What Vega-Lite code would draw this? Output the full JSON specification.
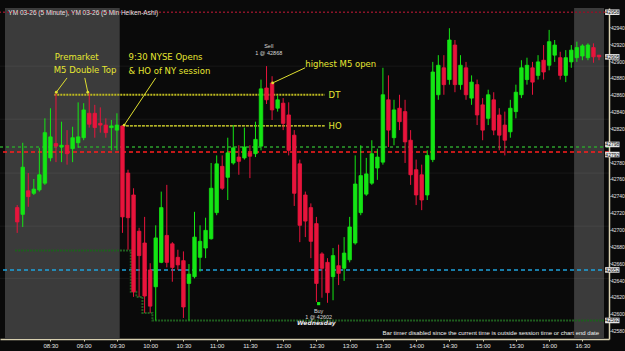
{
  "$schema": "https://vega.github.io/schema/vega-lite/v6.json",
  "width": 609,
  "height": 331,
  "autosize": {"type": "none"},
  "padding": {"top": 8, "left": 0, "right": 16, "bottom": 12},
  "background": "#0a0a0a",
  "config": {
    "view": {"stroke": null},
    "axisX": {"title": null, "grid": false, "labelColor": "#e6e6e6", "labelFont": "Liberation Sans", "labelFontSize": 6,
      "domainColor": "#d8d0b0", "domainWidth": 1.5, "tickColor": "#d8d0b0", "tickSize": 2, "labelPadding": 1},
    "axisY": {"title": null, "grid": false, "labelColor": "#e6e6e6", "labelFont": "Liberation Sans", "labelFontSize": 5,
      "domainColor": "#d8d0b0", "domainWidth": 1.5, "tickColor": "#d8d0b0", "tickSize": 1, "labelPadding": 0.5}
  },
  "datasets": {
    "candles": [
      {"t":480,"o":42726,"h":42729,"l":42696,"c":42709},
      {"t":485,"o":42718,"h":42803,"l":42703,"c":42774},
      {"t":490,"o":42746,"h":42767,"l":42727,"c":42739},
      {"t":495,"o":42743,"h":42760,"l":42741,"c":42748},
      {"t":500,"o":42747,"h":42797,"l":42745,"c":42765},
      {"t":505,"o":42755,"h":42832,"l":42753,"c":42815},
      {"t":510,"o":42785,"h":42844,"l":42781,"c":42810},
      {"t":515,"o":42802,"h":42862,"l":42780,"c":42799},
      {"t":520,"o":42798,"h":42828,"l":42780,"c":42800},
      {"t":525,"o":42800,"h":42818,"l":42777,"c":42790},
      {"t":530,"o":42796,"h":42822,"l":42780,"c":42809},
      {"t":535,"o":42803,"h":42851,"l":42797,"c":42810},
      {"t":540,"o":42809,"h":42850,"l":42806,"c":42842},
      {"t":545,"o":42838,"h":42862,"l":42821,"c":42825},
      {"t":550,"o":42838,"h":42848,"l":42809,"c":42821},
      {"t":555,"o":42826,"h":42845,"l":42815,"c":42824},
      {"t":560,"o":42824,"h":42832,"l":42809,"c":42815},
      {"t":565,"o":42821,"h":42830,"l":42794,"c":42823},
      {"t":570,"o":42818,"h":42838,"l":42794,"c":42824},
      {"t":575,"o":42823,"h":42823,"l":42696,"c":42715},
      {"t":580,"o":42767,"h":42771,"l":42676,"c":42714},
      {"t":585,"o":42741,"h":42749,"l":42620,"c":42626},
      {"t":590,"o":42698,"h":42702,"l":42620,"c":42669},
      {"t":595,"o":42684,"h":42715,"l":42601,"c":42621},
      {"t":600,"o":42652,"h":42660,"l":42601,"c":42609},
      {"t":605,"o":42632,"h":42705,"l":42592,"c":42690},
      {"t":610,"o":42661,"h":42745,"l":42660,"c":42726},
      {"t":615,"o":42693,"h":42753,"l":42655,"c":42661},
      {"t":620,"o":42683,"h":42685,"l":42638,"c":42655},
      {"t":625,"o":42667,"h":42676,"l":42652,"c":42658},
      {"t":630,"o":42663,"h":42674,"l":42595,"c":42608},
      {"t":635,"o":42636,"h":42659,"l":42592,"c":42647},
      {"t":640,"o":42644,"h":42721,"l":42642,"c":42691},
      {"t":645,"o":42667,"h":42705,"l":42650,"c":42686},
      {"t":650,"o":42678,"h":42714,"l":42666,"c":42699},
      {"t":655,"o":42689,"h":42779,"l":42688,"c":42749},
      {"t":660,"o":42720,"h":42788,"l":42717,"c":42778},
      {"t":665,"o":42775,"h":42788,"l":42747,"c":42749},
      {"t":670,"o":42762,"h":42809,"l":42735,"c":42791},
      {"t":675,"o":42779,"h":42824,"l":42777,"c":42797},
      {"t":680,"o":42786,"h":42800,"l":42765,"c":42781},
      {"t":685,"o":42785,"h":42821,"l":42783,"c":42798},
      {"t":690,"o":42791,"h":42800,"l":42761,"c":42787},
      {"t":695,"o":42790,"h":42828,"l":42786,"c":42807},
      {"t":700,"o":42799,"h":42878,"l":42794,"c":42867},
      {"t":705,"o":42868,"h":42894,"l":42849,"c":42854},
      {"t":710,"o":42874,"h":42882,"l":42830,"c":42842},
      {"t":715,"o":42844,"h":42859,"l":42840,"c":42854},
      {"t":720,"o":42850,"h":42856,"l":42818,"c":42826},
      {"t":725,"o":42836,"h":42851,"l":42788,"c":42794},
      {"t":730,"o":42812,"h":42818,"l":42728,"c":42743},
      {"t":735,"o":42778,"h":42783,"l":42685,"c":42705},
      {"t":740,"o":42741,"h":42745,"l":42691,"c":42710},
      {"t":745,"o":42726,"h":42731,"l":42666,"c":42686},
      {"t":750,"o":42707,"h":42715,"l":42614,"c":42636},
      {"t":755,"o":42671,"h":42673,"l":42619,"c":42654},
      {"t":760,"o":42661,"h":42666,"l":42613,"c":42625},
      {"t":765,"o":42644,"h":42678,"l":42616,"c":42669},
      {"t":770,"o":42657,"h":42682,"l":42634,"c":42648},
      {"t":775,"o":42654,"h":42691,"l":42639,"c":42672},
      {"t":780,"o":42664,"h":42715,"l":42661,"c":42703},
      {"t":785,"o":42684,"h":42788,"l":42682,"c":42754},
      {"t":790,"o":42720,"h":42800,"l":42717,"c":42764},
      {"t":795,"o":42742,"h":42785,"l":42740,"c":42766},
      {"t":800,"o":42755,"h":42806,"l":42753,"c":42790},
      {"t":805,"o":42773,"h":42796,"l":42759,"c":42786},
      {"t":810,"o":42780,"h":42892,"l":42777,"c":42860},
      {"t":815,"o":42854,"h":42883,"l":42798,"c":42818},
      {"t":820,"o":42809,"h":42854,"l":42800,"c":42842},
      {"t":825,"o":42844,"h":42860,"l":42818,"c":42828},
      {"t":830,"o":42840,"h":42854,"l":42779,"c":42804},
      {"t":835,"o":42806,"h":42818,"l":42753,"c":42765},
      {"t":840,"o":42771,"h":42783,"l":42729,"c":42741},
      {"t":845,"o":42765,"h":42777,"l":42723,"c":42735},
      {"t":850,"o":42741,"h":42794,"l":42735,"c":42788},
      {"t":855,"o":42783,"h":42899,"l":42780,"c":42887},
      {"t":860,"o":42860,"h":42907,"l":42854,"c":42895},
      {"t":865,"o":42892,"h":42907,"l":42860,"c":42872},
      {"t":870,"o":42878,"h":42939,"l":42872,"c":42925},
      {"t":875,"o":42919,"h":42925,"l":42863,"c":42872},
      {"t":880,"o":42872,"h":42907,"l":42866,"c":42895},
      {"t":885,"o":42892,"h":42899,"l":42854,"c":42860},
      {"t":890,"o":42856,"h":42883,"l":42848,"c":42875},
      {"t":895,"o":42872,"h":42878,"l":42824,"c":42836},
      {"t":900,"o":42848,"h":42856,"l":42806,"c":42818},
      {"t":905,"o":42832,"h":42866,"l":42824,"c":42860},
      {"t":910,"o":42854,"h":42863,"l":42812,"c":42818},
      {"t":915,"o":42836,"h":42844,"l":42794,"c":42812},
      {"t":920,"o":42824,"h":42840,"l":42788,"c":42806},
      {"t":925,"o":42816,"h":42854,"l":42809,"c":42844},
      {"t":930,"o":42840,"h":42872,"l":42832,"c":42863},
      {"t":935,"o":42860,"h":42901,"l":42856,"c":42892},
      {"t":940,"o":42878,"h":42904,"l":42872,"c":42895},
      {"t":945,"o":42892,"h":42899,"l":42860,"c":42875},
      {"t":950,"o":42883,"h":42907,"l":42878,"c":42899},
      {"t":955,"o":42901,"h":42919,"l":42878,"c":42887},
      {"t":960,"o":42895,"h":42937,"l":42889,"c":42923},
      {"t":965,"o":42907,"h":42925,"l":42899,"c":42919},
      {"t":970,"o":42904,"h":42911,"l":42878,"c":42883},
      {"t":975,"o":42883,"h":42913,"l":42875,"c":42904},
      {"t":980,"o":42899,"h":42919,"l":42892,"c":42913},
      {"t":985,"o":42904,"h":42923,"l":42899,"c":42916},
      {"t":990,"o":42906,"h":42920,"l":42901,"c":42918},
      {"t":995,"o":42904,"h":42921,"l":42901,"c":42919},
      {"t":1000,"o":42916,"h":42921,"l":42898,"c":42905},
      {"t":1005,"o":42907,"h":42907,"l":42901,"c":42905}
    ]
  },
  "layer": [
    {
      "data": {"values": [{"t1": 469, "t2": 572.5}, {"t1": 982.5, "t2": 1009.5}]},
      "mark": {"type": "rect", "color": "#3b3b3b"},
      "encoding": {
        "x": {"field": "t1", "type": "quantitative", "scale": {"domain": [469, 1009.5], "nice": false, "zero": false},
          "axis": {"orient": "bottom", "title": null, "tickCount": 100, "labelOverlap": false, "labelBound": false, "labelFlush": false,
            "values": [510,540,570,600,630,660,690,720,750,780,810,840,870,900,930,960,990],
            "labelExpr": "(floor(datum.value/60)<10?'0':'') + floor(datum.value/60) + ':' + (datum.value%60<10?'0':'') + (datum.value%60)"}},
        "x2": {"field": "t2"}
      }
    },
    {
      "data": {"values": [{"p": 42894}, {"p": 42831}, {"p": 42767}, {"p": 42704}, {"p": 42642}]},
      "mark": {"type": "rule", "color": "#ffffff", "opacity": 0.06, "strokeWidth": 1},
      "encoding": {
        "y": {"field": "p", "type": "quantitative", "scale": {"domain": [42570, 42963], "nice": false, "zero": false},
          "axis": {"orient": "right", "title": null, "format": "d", "tickCount": 100, "labelOverlap": false, "labelBound": false, "labelFlush": false,
            "values": [42580,42600,42620,42640,42660,42680,42700,42720,42740,42760,42780,42820,42840,42860,42880,42900,42920,42940]}}
      }
    },
    {
      "data": {"values": [{"p": 42958}]},
      "mark": {"type": "rule", "color": "#8a1428", "strokeDash": [2, 2], "strokeWidth": 1.5},
      "encoding": {"y": {"field": "p", "type": "quantitative", "scale": {"domain": [42570, 42963], "nice": false, "zero": false}, "axis": {"title": null}}}
    },
    {
      "data": {"values": [{"p": 42798}]},
      "mark": {"type": "rule", "color": "#2ea02e", "strokeDash": [3, 3], "strokeWidth": 1.5},
      "encoding": {"y": {"field": "p", "type": "quantitative", "scale": {"domain": [42570, 42963], "nice": false, "zero": false}, "axis": {"title": null}}}
    },
    {
      "data": {"values": [{"p": 42792}]},
      "mark": {"type": "rule", "color": "#ff1e1e", "strokeDash": [4, 3], "strokeWidth": 1.5},
      "encoding": {"y": {"field": "p", "type": "quantitative", "scale": {"domain": [42570, 42963], "nice": false, "zero": false}, "axis": {"title": null}}}
    },
    {
      "data": {"values": [{"p": 42652}]},
      "mark": {"type": "rule", "color": "#1fa3dc", "strokeDash": [4, 3], "strokeWidth": 1.5},
      "encoding": {"y": {"field": "p", "type": "quantitative", "scale": {"domain": [42570, 42963], "nice": false, "zero": false}, "axis": {"title": null}}}
    },
    {
      "data": {"values": [
        {"t": 478, "p": 42675}, {"t": 582.5, "p": 42626}, {"t": 587.5, "p": 42620},
        {"t": 593, "p": 42601}, {"t": 602, "p": 42592}, {"t": 1009.5, "p": 42592}
      ]},
      "mark": {"type": "line", "interpolate": "step-after", "color": "#1f5e1f", "strokeDash": [2, 1], "strokeWidth": 2},
      "encoding": {
        "x": {"field": "t", "type": "quantitative", "scale": {"domain": [469, 1009.5], "nice": false, "zero": false}, "axis": {"title": null}},
        "y": {"field": "p", "type": "quantitative", "scale": {"domain": [42570, 42963], "nice": false, "zero": false}, "axis": {"title": null}}
      }
    },
    {
      "data": {"values": [{"t1": 513.5, "t2": 757.5, "p": 42860}]},
      "mark": {"type": "rule", "color": "#bcb820", "strokeDash": [2, 1], "strokeWidth": 2},
      "encoding": {
        "x": {"field": "t1", "type": "quantitative", "scale": {"domain": [469, 1009.5], "nice": false, "zero": false}, "axis": {"title": null}},
        "x2": {"field": "t2"},
        "y": {"field": "p", "type": "quantitative", "scale": {"domain": [42570, 42963], "nice": false, "zero": false}, "axis": {"title": null}}
      }
    },
    {
      "data": {"values": [{"t1": 574.5, "t2": 757.5, "p": 42823}]},
      "mark": {"type": "rule", "color": "#ecec30", "strokeDash": [3, 1], "strokeWidth": 1.2},
      "encoding": {
        "x": {"field": "t1", "type": "quantitative", "scale": {"domain": [469, 1009.5], "nice": false, "zero": false}, "axis": {"title": null}},
        "x2": {"field": "t2"},
        "y": {"field": "p", "type": "quantitative", "scale": {"domain": [42570, 42963], "nice": false, "zero": false}, "axis": {"title": null}}
      }
    },
    {
      "data": {"name": "candles"},
      "mark": {"type": "rule", "strokeWidth": 1},
      "encoding": {
        "x": {"field": "t", "type": "quantitative", "scale": {"domain": [469, 1009.5], "nice": false, "zero": false}, "axis": {"title": null}},
        "y": {"field": "l", "type": "quantitative", "scale": {"domain": [42570, 42963], "nice": false, "zero": false}, "axis": {"title": null}},
        "y2": {"field": "h"},
        "color": {"condition": {"test": "datum.c >= datum.o", "value": "#14e614"}, "value": "#e8143c"}
      }
    },
    {
      "data": {"name": "candles"},
      "mark": {"type": "bar", "size": 3.5, "strokeWidth": 0.8},
      "encoding": {
        "x": {"field": "t", "type": "quantitative", "scale": {"domain": [469, 1009.5], "nice": false, "zero": false}, "axis": {"title": null}},
        "y": {"field": "o", "type": "quantitative", "scale": {"domain": [42570, 42963], "nice": false, "zero": false}, "axis": {"title": null}},
        "y2": {"field": "c"},
        "color": {"condition": {"test": "datum.c >= datum.o", "value": "#14e614"}, "value": "#e8143c"},
        "stroke": {"condition": {"test": "datum.c >= datum.o", "value": "#14e614"}, "value": "#e8143c"}
      }
    },
    {
      "data": {"values": [
        {"t1": 525, "p1": 42880, "t2": 515.3, "p2": 42863},
        {"t1": 541, "p1": 42880, "t2": 543.7, "p2": 42863},
        {"t1": 605, "p1": 42880, "t2": 576.6, "p2": 42824},
        {"t1": 739.8, "p1": 42892, "t2": 710.5, "p2": 42874}
      ]},
      "mark": {"type": "rule", "color": "#e0e030", "strokeWidth": 1},
      "encoding": {
        "x": {"field": "t1", "type": "quantitative", "scale": {"domain": [469, 1009.5], "nice": false, "zero": false}, "axis": {"title": null}},
        "x2": {"field": "t2"},
        "y": {"field": "p1", "type": "quantitative", "scale": {"domain": [42570, 42963], "nice": false, "zero": false}, "axis": {"title": null}},
        "y2": {"field": "p2"}
      }
    },
    {
      "data": {"values": [
        {"t": 515.3, "p": 42863}, {"t": 543.7, "p": 42863}, {"t": 576.6, "p": 42824}, {"t": 710.5, "p": 42874}
      ]},
      "mark": {"type": "point", "shape": "circle", "filled": true, "size": 8, "color": "#e0e030", "opacity": 1},
      "encoding": {
        "x": {"field": "t", "type": "quantitative", "scale": {"domain": [469, 1009.5], "nice": false, "zero": false}, "axis": {"title": null}},
        "y": {"field": "p", "type": "quantitative", "scale": {"domain": [42570, 42963], "nice": false, "zero": false}, "axis": {"title": null}}
      }
    },
    {
      "data": {"values": [
        {"t": 514, "p": 42905, "txt": "Premarket"},
        {"t": 513, "p": 42889, "txt": "M5 Double Top"},
        {"t": 580.5, "p": 42905, "txt": "9:30 NYSE Opens"},
        {"t": 580.5, "p": 42888, "txt": "& HO of NY session"},
        {"t": 740, "p": 42897, "txt": "highest M5 open"},
        {"t": 761, "p": 42860, "txt": "DT"},
        {"t": 761, "p": 42823, "txt": "HO"}
      ]},
      "mark": {"type": "text", "align": "left", "baseline": "middle", "color": "#e6e632", "font": "DejaVu Sans", "fontSize": 8.5},
      "encoding": {
        "x": {"field": "t", "type": "quantitative", "scale": {"domain": [469, 1009.5], "nice": false, "zero": false}, "axis": {"title": null}},
        "y": {"field": "p", "type": "quantitative", "scale": {"domain": [42570, 42963], "nice": false, "zero": false}, "axis": {"title": null}},
        "text": {"field": "txt"}
      }
    },
    {
      "data": {"values": [
        {"t": 472, "p": 42957, "txt": "YM 03-26 (5 Minute), YM 03-26 (5 Min Heiken-Ashi)"}
      ]},
      "mark": {"type": "text", "align": "left", "baseline": "middle", "color": "#e0e0e0", "font": "Liberation Sans", "fontSize": 6.5},
      "encoding": {
        "x": {"field": "t", "type": "quantitative", "scale": {"domain": [469, 1009.5], "nice": false, "zero": false}, "axis": {"title": null}},
        "y": {"field": "p", "type": "quantitative", "scale": {"domain": [42570, 42963], "nice": false, "zero": false}, "axis": {"title": null}},
        "text": {"field": "txt"}
      }
    },
    {
      "data": {"values": [
        {"t": 707, "p": 42918, "txt": "Sell"},
        {"t": 707, "p": 42910, "txt": "1 @ 42868"},
        {"t": 752, "p": 42603, "txt": "Buy"},
        {"t": 752, "p": 42596, "txt": "1 @ 42602"}
      ]},
      "mark": {"type": "text", "align": "center", "baseline": "middle", "color": "#d8d8d8", "font": "Liberation Sans", "fontSize": 5.5},
      "encoding": {
        "x": {"field": "t", "type": "quantitative", "scale": {"domain": [469, 1009.5], "nice": false, "zero": false}, "axis": {"title": null}},
        "y": {"field": "p", "type": "quantitative", "scale": {"domain": [42570, 42963], "nice": false, "zero": false}, "axis": {"title": null}},
        "text": {"field": "txt"}
      }
    },
    {
      "data": {"values": [{"t": 750, "p": 42589, "txt": "Wednesday"}]},
      "mark": {"type": "text", "align": "center", "baseline": "middle", "color": "#e8e8e8", "font": "DejaVu Sans", "fontSize": 6, "fontStyle": "italic", "fontWeight": "bold"},
      "encoding": {
        "x": {"field": "t", "type": "quantitative", "scale": {"domain": [469, 1009.5], "nice": false, "zero": false}, "axis": {"title": null}},
        "y": {"field": "p", "type": "quantitative", "scale": {"domain": [42570, 42963], "nice": false, "zero": false}, "axis": {"title": null}},
        "text": {"field": "txt"}
      }
    },
    {
      "data": {"values": [{"t": 752, "p": 42612}]},
      "mark": {"type": "point", "shape": "square", "filled": true, "size": 10, "color": "#14e614", "opacity": 1},
      "encoding": {
        "x": {"field": "t", "type": "quantitative", "scale": {"domain": [469, 1009.5], "nice": false, "zero": false}, "axis": {"title": null}},
        "y": {"field": "p", "type": "quantitative", "scale": {"domain": [42570, 42963], "nice": false, "zero": false}, "axis": {"title": null}}
      }
    },
    {
      "data": {"values": [{"t": 1005, "p": 42577, "txt": "Bar timer disabled since the current time is outside session time or chart end date"}]},
      "mark": {"type": "text", "align": "right", "baseline": "middle", "color": "#f0f0f0", "font": "Liberation Sans", "fontSize": 6},
      "encoding": {
        "x": {"field": "t", "type": "quantitative", "scale": {"domain": [469, 1009.5], "nice": false, "zero": false}, "axis": {"title": null}},
        "y": {"field": "p", "type": "quantitative", "scale": {"domain": [42570, 42963], "nice": false, "zero": false}, "axis": {"title": null}},
        "text": {"field": "txt"}
      }
    },
    {
      "data": {"values": [
        {"t1": 1010.5, "t2": 1023.5, "p": 42958},
        {"t1": 1010.5, "t2": 1023.5, "p": 42905},
        {"t1": 1010.5, "t2": 1023.5, "p": 42801},
        {"t1": 1010.5, "t2": 1023.5, "p": 42789},
        {"t1": 1010.5, "t2": 1023.5, "p": 42652},
        {"t1": 1010.5, "t2": 1023.5, "p": 42592}
      ]},
      "transform": [{"calculate": "datum.p - 3.3", "as": "lo"}, {"calculate": "datum.p + 3.3", "as": "hi"}],
      "mark": {"type": "rect", "color": "#e4e4e4"},
      "encoding": {
        "x": {"field": "t1", "type": "quantitative", "scale": {"domain": [469, 1009.5], "nice": false, "zero": false}, "axis": {"title": null}},
        "x2": {"field": "t2"},
        "y": {"field": "lo", "type": "quantitative", "scale": {"domain": [42570, 42963], "nice": false, "zero": false}, "axis": {"title": null}},
        "y2": {"field": "hi"}
      }
    },
    {
      "data": {"values": [
        {"t": 1017, "p": 42958, "txt": "42958"},
        {"t": 1017, "p": 42905, "txt": "42905"},
        {"t": 1017, "p": 42801, "txt": "42798"},
        {"t": 1017, "p": 42789, "txt": "42792"},
        {"t": 1017, "p": 42652, "txt": "42652"},
        {"t": 1017, "p": 42592, "txt": "42592"}
      ]},
      "mark": {"type": "text", "align": "center", "baseline": "middle", "color": "#111111", "font": "Liberation Sans", "fontSize": 5},
      "encoding": {
        "x": {"field": "t", "type": "quantitative", "scale": {"domain": [469, 1009.5], "nice": false, "zero": false}, "axis": {"title": null}},
        "y": {"field": "p", "type": "quantitative", "scale": {"domain": [42570, 42963], "nice": false, "zero": false}, "axis": {"title": null}},
        "text": {"field": "txt"}
      }
    }
  ]
}
